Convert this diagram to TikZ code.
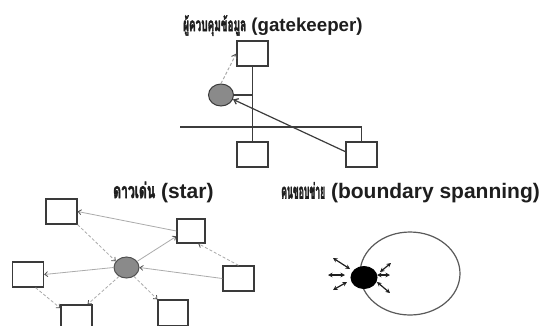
\documentclass[tikz,border=0pt]{standalone}
\usepackage{fontspec}
\usepackage{graphicx}
\setmainfont{Liberation Sans}
\newfontfamily\thaifont[Script=Thai,FakeBold=3]{Loma}
\usetikzlibrary{arrows.meta,shapes.geometric}

\definecolor{ink}{HTML}{1E1E1E}
\definecolor{boxcol}{HTML}{3A3A3A}
\definecolor{gatecol}{HTML}{3C3C3C}
\definecolor{softcol}{HTML}{ABABAB}
\definecolor{tipcol}{HTML}{505050}
\definecolor{hubfill}{HTML}{8A8A8A}
\definecolor{ringcol}{HTML}{5A5A5A}

% Thai part of a heading, squeezed to a given width
\newcommand\thaihead[2]{\resizebox{#1}{\height}{\thaifont #2}}

\begin{document}
\begin{tikzpicture}[x=1pt,y=-1pt,
  box/.style={draw=boxcol,line width=1.3pt,minimum width=31pt,minimum height=25pt,inner sep=0pt},
  person/.style={ellipse,draw=#1,line width=1pt,inner sep=0pt},
  head/.style={anchor=base west,inner sep=0pt,text=ink,
    font=\fontsize{18.7}{20}\selectfont\bfseries},
  bighead/.style={head,font=\fontsize{21}{23}\selectfont\bfseries},
  gateline/.style={draw=gatecol,line width=1.2pt},
  gatearrow/.style={gateline,-{Straight Barb[length=4pt,width=6pt]}},
  gatedash/.style={draw=softcol,line width=1pt,dash pattern=on 3pt off 2pt,
    -{Straight Barb[length=4pt,width=6pt,color=tipcol]}},
  tie/.style={draw=softcol,line width=0.8pt,
    -{Straight Barb[length=3pt,width=5pt,color=tipcol]}},
  tiedash/.style={tie,dash pattern=on 3pt off 2pt},
  span/.style={draw=ink,line width=1.2pt,
    {Stealth[length=4.5pt,width=4.5pt]}-{Stealth[length=4.5pt,width=4.5pt]}},
]
\fill[white] (0,0) rectangle (541,325);
\clip (0,0) rectangle (541,325);

% ---------- gatekeeper ----------
\node[head] (gkTitle) at (183,31) {\thaihead{63pt}{ผู้ควบคุมข้อมูล} (gatekeeper)};

\node[box] (gkTop) at (252.5,53.5) {};
\node[box] (gkLeft) at (252.5,154.5) {};
\node[box] (gkRight) at (361.5,154.5) {};
\node[person=boxcol,fill=hubfill,minimum width=25pt,minimum height=22pt] (gk) at (221,95) {};
\coordinate (gkWire) at (180,127);

\draw[gateline] (gkTop.south) -- (gkLeft.north);
\draw[gateline] (gk.east) -- (gk.east -| gkTop.south);
\draw[gateline] (gkWire) -- (gkWire -| gkRight.north) -- (gkRight.north);
\draw[gatearrow] (gkRight.170) -- (gk.-20);
\draw[gatedash] (gk.north) -- (gkTop.west);

% ---------- star ----------
\node[bighead] (starTitle) at (113,198) {\thaihead{42pt}{ดาวเด่น} (star)};

\node[person=tipcol,fill=hubfill,minimum width=25pt,minimum height=21pt] (hub) at (126.5,267.5) {};
\node[box] (sA) at (61.5,211.5) {};
\node[box,minimum width=28pt,minimum height=24pt] (sB) at (191,231) {};
\node[box] (sC) at (28,274.5) {};
\node[box] (sD) at (238.5,278.5) {};
\node[box] (sE) at (76.5,317.5) {};
\node[box,minimum width=30pt,minimum height=26pt] (sF) at (173,313) {};

\draw[tie] (sB.west) -- (sA.east);
\draw[tiedash] (sA.south east) -- (hub.150);
\draw[tie,{Straight Barb[length=3pt,width=5pt,color=tipcol]}-] (sC.east) -- (hub.west);
\draw[tiedash] (sC.-60) -- (sE.150);
\draw[tiedash] (hub.230) -- (sE.50);
\draw[tie] (hub.30) -- (sB.200);
\draw[tiedash] (sD.north) -- (sB.-60);
\draw[tie] (sD.west) -- (hub.east);
\draw[tiedash] (hub.-50) -- (sF.north west);

% ---------- boundary spanning ----------
\node[bighead] (bsTitle) at (281,198.5) {\thaihead{44pt}{คนขอบข่าย} (boundary spanning)};

\node[ellipse,draw=ringcol,line width=1.2pt,minimum width=100pt,minimum height=83pt,inner sep=0pt] (ring) at (410,273.5) {};
\node[person=black,fill=black,minimum width=26pt,minimum height=22pt] (bs) at (364,277.5) {};

\foreach \n/\ox/\oy/\ix/\iy in {nw/333/258/350/269, w/328/275/345/275, sw/333/290/347/282,
                               ne/391/263/380/272, e/390/275/377/275, se/390/293/377/282}{
  \coordinate (\n out) at (\ox,\oy);
  \coordinate (\n in) at (\ix,\iy);
  \draw[span] (\n out) -- (\n in);
}
\end{tikzpicture}
\end{document}
